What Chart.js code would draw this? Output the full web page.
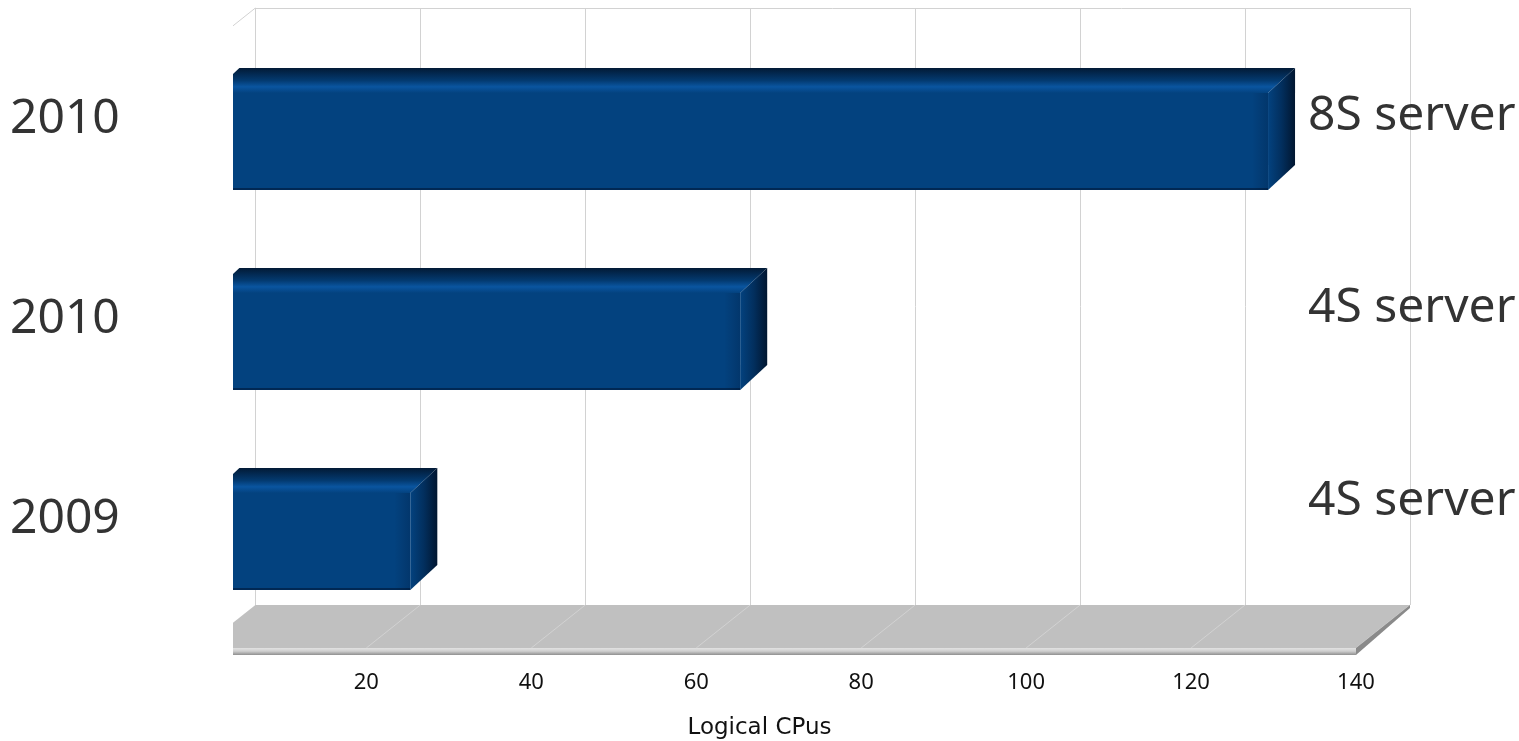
<!DOCTYPE html>
<html><head><meta charset="utf-8">
<script src="https://cdn.jsdelivr.net/npm/chart.js@4.4.1/dist/chart.umd.min.js"></script>
<style>html,body{margin:0;padding:0;background:#fff;overflow:hidden}#wrap{width:1519px;height:741px;position:relative}</style>
</head><body><div id="wrap"><canvas id="c"></canvas></div>
<script>
// ---- data ----
const categories = ['2010', '2010', '2009'];
const serverLabels = ['8S server', '4S server', '4S server'];
const logicalCpus = [128, 64, 24];
const xTicks = [20, 40, 60, 80, 100, 120, 140];
const axisTitle = 'Logical CPus';
const axisMin = 2.5, axisMax = 140;

// ---- 3D geometry (styling) ----
const DX = 27, DY = -25;      // bar depth
const FRONT = -11;            // floor front edge offset from bar plane
const BACK = 43;              // back wall offset from bar plane
const WDY = -43;              // floor depth (vertical)
const BLUE = '#03427f';

const threeD = {
  id: 'threeD',
  beforeDatasetsDraw(chart) {
    const {ctx, chartArea: a, scales: {x}} = chart;
    const x0 = x.getPixelForValue(0), x1 = x.getPixelForValue(axisMax);
    const ff = a.bottom + 6.5, fb = ff + WDY, wt = a.top - 33.5;
    const slope = -WDY / (BACK - FRONT);
    ctx.save();
    ctx.beginPath(); ctx.rect(a.left, 0, chart.width - a.left, chart.height); ctx.clip();
    // back wall grid
    ctx.strokeStyle = '#d2d2d2'; ctx.lineWidth = 1;
    ctx.beginPath();
    [0, ...xTicks].forEach(v => {
      const px = Math.round(x.getPixelForValue(v) + BACK) + 0.5;
      ctx.moveTo(px, wt); ctx.lineTo(px, fb);
    });
    ctx.moveTo(x0 + BACK, Math.round(wt) + 0.5); ctx.lineTo(x1 + BACK, Math.round(wt) + 0.5);
    // left diagonal edge
    ctx.moveTo(a.left, wt + (x0 + BACK - a.left) * slope);
    ctx.lineTo(x0 + BACK, wt);
    ctx.stroke();
    // floor top face
    ctx.fillStyle = '#c0c0c0';
    ctx.beginPath();
    ctx.moveTo(x0 + FRONT, ff); ctx.lineTo(x1 + FRONT, ff); ctx.lineTo(x1 + BACK, fb); ctx.lineTo(x0 + BACK, fb);
    ctx.closePath(); ctx.fill();
    // floor grid diagonals
    ctx.strokeStyle = 'rgba(212,212,212,0.9)';
    ctx.beginPath();
    xTicks.forEach(v => {
      const px = x.getPixelForValue(v);
      ctx.moveTo(px + FRONT, ff); ctx.lineTo(px + BACK, fb);
    });
    ctx.stroke();
    // floor front slab
    const g = ctx.createLinearGradient(0, ff, 0, ff + 7);
    g.addColorStop(0, '#e2e2e2'); g.addColorStop(0.45, '#cfcfcf'); g.addColorStop(1, '#8f8f8f');
    ctx.fillStyle = g;
    ctx.fillRect(x0 + FRONT, ff, x1 - x0, 7);
    // floor right side
    ctx.fillStyle = '#8a8a8a';
    ctx.beginPath();
    ctx.moveTo(x1 + FRONT, ff); ctx.lineTo(x1 + BACK, fb); ctx.lineTo(x1 + BACK, fb + 3); ctx.lineTo(x1 + FRONT, ff + 7);
    ctx.closePath(); ctx.fill();
    ctx.restore();
  },
  afterDatasetsDraw(chart) {
    const {ctx, chartArea: a, scales: {x}} = chart;
    const xl = x.getPixelForValue(0);
    ctx.save();
    ctx.beginPath(); ctx.rect(a.left, 0, chart.width - a.left, chart.height); ctx.clip();
    chart.getDatasetMeta(0).data.forEach(bar => {
      const {x: xe, y, height} = bar.getProps(['x', 'y', 'height'], true);
      const top = y - height / 2, bot = y + height / 2;
      // top face
      let g = ctx.createLinearGradient(0, top + DY, 0, top);
      g.addColorStop(0, '#021a36'); g.addColorStop(0.5, '#033a70');
      g.addColorStop(0.75, '#0a55a0'); g.addColorStop(1, BLUE);
      ctx.fillStyle = g;
      ctx.beginPath();
      ctx.moveTo(xl, top); ctx.lineTo(xe, top); ctx.lineTo(xe + DX, top + DY); ctx.lineTo(xl + DX, top + DY);
      ctx.closePath(); ctx.fill();
      // front right shading
      g = ctx.createLinearGradient(xe - 16, 0, xe, 0);
      g.addColorStop(0, 'rgba(0,20,50,0)'); g.addColorStop(1, 'rgba(0,20,50,0.25)');
      ctx.fillStyle = g; ctx.fillRect(xe - 16, top, 16, bot - top);
      // side face
      g = ctx.createLinearGradient(xe, 0, xe + DX, 0);
      g.addColorStop(0, '#03427f'); g.addColorStop(0.5, '#022f5e'); g.addColorStop(1, '#011630');
      ctx.fillStyle = g;
      ctx.beginPath();
      ctx.moveTo(xe, top); ctx.lineTo(xe + DX, top + DY); ctx.lineTo(xe + DX, bot + DY); ctx.lineTo(xe, bot);
      ctx.closePath(); ctx.fill();
      // bottom edge line
      ctx.fillStyle = 'rgba(0,20,50,0.55)';
      ctx.fillRect(xl, bot - 2, xe - xl, 2);
    });
    ctx.restore();
  },
  afterDraw(chart) {
    const {ctx, chartArea: a, scales: {y}} = chart;
    const mid = (a.top + a.bottom) / 2;
    ctx.save();
    ctx.font = '48px "Noto Sans"';
    ctx.fillStyle = '#333333';
    ctx.textAlign = 'left'; ctx.textBaseline = 'middle';
    serverLabels.forEach((t, i) => {
      const cy = y.getPixelForValue(i);
      ctx.fillText(t, a.right - 59, mid + (cy - mid) * 0.9625 - 33);
    });
    // axis title, centred on the whole figure
    ctx.font = '23px "DejaVu Sans"';
    ctx.fillStyle = '#111111';
    ctx.textAlign = 'center';
    ctx.fillText(axisTitle, chart.width / 2, chart.height - 13);
    ctx.restore();
  }
};

new Chart(document.getElementById('c'), {
  type: 'bar',
  data: {
    labels: categories,
    datasets: [{
      data: logicalCpus,
      backgroundColor: BLUE,
      borderWidth: 0,
      barPercentage: 0.485,
      categoryPercentage: 1
    }]
  },
  options: {
    indexAxis: 'y',
    responsive: true,
    maintainAspectRatio: false,
    animation: false,
    layout: {padding: {left: 10, right: 152, top: 41.5, bottom: 0}},
    plugins: {legend: {display: false}, tooltip: {enabled: false}},
    scales: {
      x: {
        type: 'linear', min: axisMin, max: axisMax,
        afterBuildTicks: s => { s.ticks = xTicks.map(v => ({value: v})); },
        afterFit: s => { s.height = 99.5; },
        grid: {display: false, drawTicks: false},
        border: {display: false},
        ticks: {font: {family: 'Noto Sans', size: 22}, color: '#111', padding: 28, maxRotation: 0,
                autoSkip: false, labelOffset: FRONT}
      },
      y: {
        type: 'category',
        afterFit: s => { s.width = 223; },
        grid: {display: false, drawTicks: false},
        border: {display: false},
        ticks: {font: {family: 'Noto Sans', size: 48}, color: '#333333', crossAlign: 'far', labelOffset: -22}
      }
    }
  },
  plugins: [threeD]
});
</script></body></html>
